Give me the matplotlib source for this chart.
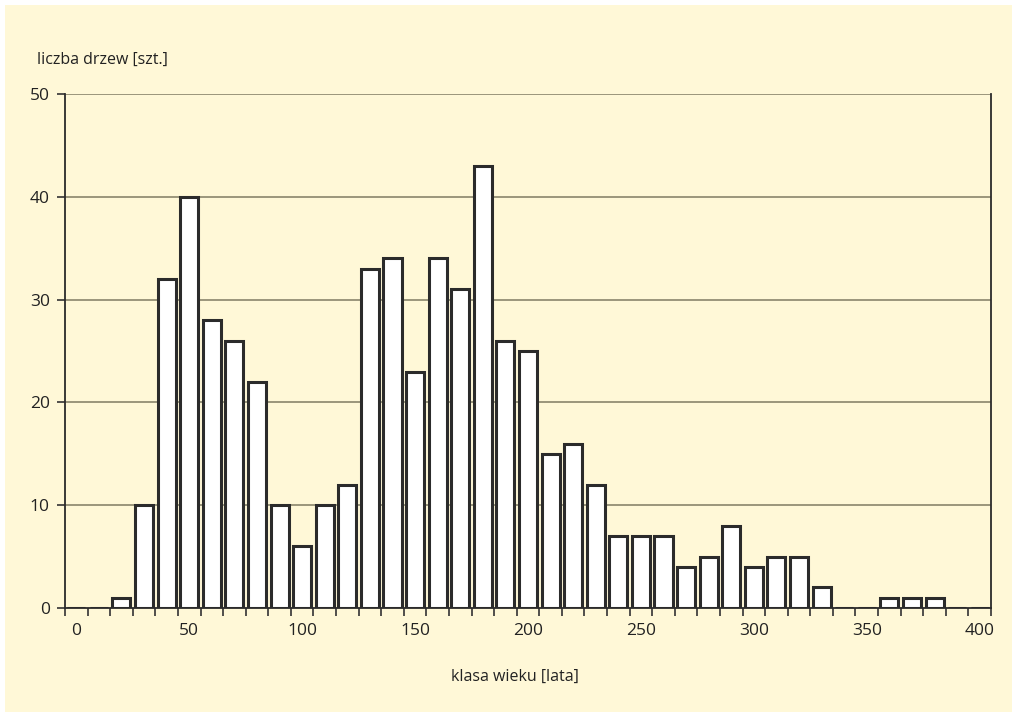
import matplotlib
matplotlib.use("Agg")
import matplotlib.pyplot as plt
from matplotlib.patches import Rectangle

age_classes = list(range(0, 410, 10))
tree_counts = [0, 0, 1, 10, 32, 40, 28, 26, 22, 10, 6, 10, 12, 33, 34, 23, 34, 31, 43,
               26, 25, 15, 16, 12, 7, 7, 7, 4, 5, 8, 4, 5, 5, 2, 0, 0, 1, 1, 1, 0, 0]
x_labels = list(range(0, 401, 50))
y_ticks = [0, 10, 20, 30, 40, 50]

bg = "#FFF8D7"
plt.rcParams['font.family'] = ['Open Sans', 'DejaVu Sans']

fig = plt.figure(figsize=(10.17, 7.12), dpi=100)
fig.patch.set_facecolor("white")
fig.patches.append(Rectangle((5/1017, 0), 1 - 10/1017, 1 - 5/712, transform=fig.transFigure,
                             facecolor=bg, edgecolor="none", zorder=-10))

ax = fig.add_axes([65/1017, 1 - 608/712, (991 - 65)/1017, (608 - 94)/712])
ax.set_facecolor(bg)

for yv in y_ticks[1:]:
    ax.axhline(yv, color="#8a856c", lw=1.2, zorder=1)

ax.bar(age_classes, tree_counts, width=8, color="white", edgecolor="#2b2b2b",
       linewidth=2.2, zorder=3)

ax.set_xlim(-5, 405)
ax.set_ylim(0, 50)

# category boundary ticks
ax.set_xticks([v + 5 for v in range(-10, 401, 10)], minor=True)
ax.set_xticks(x_labels)
ax.set_xticklabels([str(v) for v in x_labels], fontsize=12.5, color="#222222")
ax.tick_params(axis='x', which='major', length=0, pad=11)
ax.tick_params(axis='x', which='minor', length=6, width=1.2, color="#333333", direction='out')
ax.set_yticks(y_ticks)
ax.set_yticklabels([str(v) for v in y_ticks], fontsize=12.5, color="#222222")
ax.tick_params(axis='y', length=6, width=1.2, color="#333333", direction='out', pad=5)

ax.spines["top"].set_visible(False)
for s in ["left", "bottom", "right"]:
    ax.spines[s].set_color("#2b2b2b")
    ax.spines[s].set_linewidth(1.3)

fig.text(37/1017, 1 - 60/712, "liczba drzew [szt.]", fontsize=11.5, color="#222222",
         va="center", ha="left")
fig.text(515/1017, 1 - 677/712, "klasa wieku [lata]", fontsize=11.5, color="#222222",
         va="center", ha="center")

fig.savefig("out.png", dpi=100, facecolor=fig.get_facecolor())
